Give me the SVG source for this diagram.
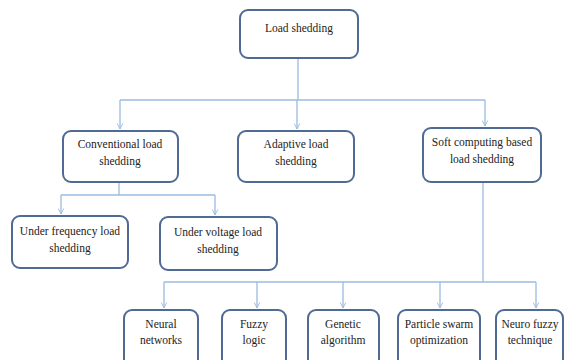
<svg xmlns="http://www.w3.org/2000/svg" width="567" height="360" viewBox="0 0 567 360">
<style>
.box{fill:#fff;stroke:#4f6a93;stroke-width:2}
.t{font-family:"Liberation Serif","Times New Roman",serif;font-size:11.5px;fill:#222;text-anchor:middle}
.c{fill:none;stroke:#9bbbe0;stroke-width:1.3}
</style>
<defs>
<marker id="a" viewBox="0 0 10 10" refX="9" refY="5" markerWidth="7" markerHeight="7" orient="auto" markerUnits="userSpaceOnUse">
<path d="M1,1 L9,5 L1,9" fill="none" stroke="#9bbbe0" stroke-width="1.3"/>
</marker>
</defs>
<rect width="567" height="360" fill="#fff"/>
<g id="connectors">
<path class="c" d="M298,58 V100"/>
<path class="c" d="M120,100 H485"/>
<path class="c" d="M120,100 V129" marker-end="url(#a)"/>
<path class="c" d="M297,100 V129" marker-end="url(#a)"/>
<path class="c" d="M485,100 V126" marker-end="url(#a)"/>
<path class="c" d="M119,182 V195"/>
<path class="c" d="M61,195 H215"/>
<path class="c" d="M61,195 V214" marker-end="url(#a)"/>
<path class="c" d="M215,195 V215" marker-end="url(#a)"/>
<path class="c" d="M483,182 V282"/>
<path class="c" d="M164,282 H536"/>
<path class="c" d="M164,282 V308" marker-end="url(#a)"/>
<path class="c" d="M257,282 V308" marker-end="url(#a)"/>
<path class="c" d="M343,282 V308" marker-end="url(#a)"/>
<path class="c" d="M440,282 V308" marker-end="url(#a)"/>
<path class="c" d="M536,282 V308" marker-end="url(#a)"/>
</g>
<g id="load-shedding"><rect class="box" x="240" y="10" width="118" height="48" rx="8"/><text class="t" x="299" y="32">Load shedding</text></g>
<g id="conventional"><rect class="box" x="63" y="131" width="115" height="51" rx="8"/><text class="t" x="120" y="148">Conventional load</text><text class="t" x="120" y="165">shedding</text></g>
<g id="adaptive"><rect class="box" x="238" y="131" width="116" height="51" rx="8"/><text class="t" x="296" y="148">Adaptive load</text><text class="t" x="296" y="165">shedding</text></g>
<g id="soft-computing"><rect class="box" x="423" y="128" width="118" height="54" rx="8"/><text class="t" x="482" y="146">Soft computing based</text><text class="t" x="482" y="163">load shedding</text></g>
<g id="under-frequency"><rect class="box" x="12" y="216" width="116" height="52" rx="8"/><text class="t" x="70" y="235">Under frequency load</text><text class="t" x="70" y="252">shedding</text></g>
<g id="under-voltage"><rect class="box" x="160" y="217" width="117" height="53" rx="8"/><text class="t" x="218" y="236">Under voltage load</text><text class="t" x="218" y="253">shedding</text></g>
<g id="neural"><rect class="box" x="124" y="310" width="74" height="60" rx="8"/><text class="t" x="161" y="328">Neural</text><text class="t" x="161" y="344">networks</text></g>
<g id="fuzzy"><rect class="box" x="222" y="310" width="64" height="60" rx="8"/><text class="t" x="254" y="328">Fuzzy</text><text class="t" x="254" y="344">logic</text></g>
<g id="genetic"><rect class="box" x="308" y="310" width="71" height="60" rx="8"/><text class="t" x="343" y="328">Genetic</text><text class="t" x="343" y="344">algorithm</text></g>
<g id="pso"><rect class="box" x="398" y="310" width="82" height="60" rx="8"/><text class="t" x="439" y="328">Particle swarm</text><text class="t" x="439" y="344">optimization</text></g>
<g id="neuro-fuzzy"><rect class="box" x="496" y="310" width="67" height="60" rx="8"/><text class="t" x="530" y="328">Neuro fuzzy</text><text class="t" x="530" y="344">technique</text></g>
</svg>
